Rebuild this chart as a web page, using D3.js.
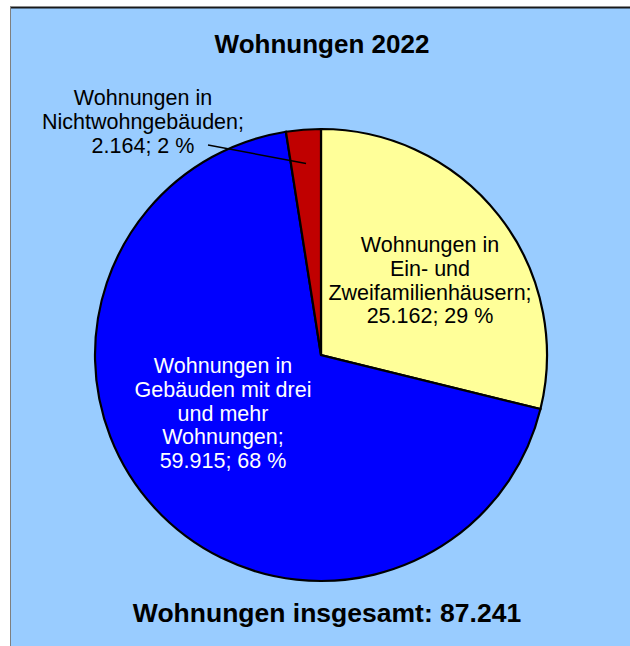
<!DOCTYPE html>
<html>
<head>
<meta charset="utf-8">
<script src="https://cdn.jsdelivr.net/npm/d3@7"></script>
<style>
  html, body { margin: 0; padding: 0; background: #ffffff; }
  svg { display: block; }
  text { font-family: "Liberation Sans", Arial, sans-serif; }
</style>
</head>
<body>
<script>
// ---- data ----
const categories = [
  "Wohnungen in Ein- und Zweifamilienhäusern",
  "Wohnungen in Gebäuden mit drei und mehr Wohnungen",
  "Wohnungen in Nichtwohngebäuden"
];
const values = [25162, 59915, 2164];
const percents = [29, 68, 2];
const labelLines = [
  ["Wohnungen in", "Ein- und", "Zweifamilienhäusern;", "25.162; 29 %"],
  ["Wohnungen in", "Gebäuden mit drei", "und mehr", "Wohnungen;", "59.915; 68 %"],
  ["Wohnungen in", "Nichtwohngebäuden;", "2.164; 2 %"]
];
const colors = ["#FFFF99", "#0000FF", "#C00000"];
const labelColors = ["#000000", "#FFFFFF", "#000000"];
const title = "Wohnungen 2022";
const footer = "Wohnungen insgesamt: 87.241";

// ---- layout ----
const W = 630, H = 646;
const cx = 321, cy = 355, R = 226;

const svg = d3.select("body").append("svg")
  .attr("width", W).attr("height", H);

// frame
svg.append("rect").attr("x", 10).attr("y", 7).attr("width", W - 10).attr("height", H - 7)
  .attr("fill", "#99CCFF");
svg.append("line").attr("x1", 10).attr("x2", W).attr("y1", 7.5).attr("y2", 7.5)
  .attr("stroke", "#1a1a1a").attr("stroke-width", 2);
svg.append("line").attr("x1", 10.5).attr("x2", 10.5).attr("y1", 7).attr("y2", H)
  .attr("stroke", "#7f7f7f").attr("stroke-width", 1);

// title
svg.append("text").attr("x", 322).attr("y", 53)
  .attr("text-anchor", "middle").attr("font-weight", "bold").attr("font-size", 26)
  .attr("fill", "#000").text(title);

svg.append("text").attr("x", 327).attr("y", 622)
  .attr("text-anchor", "middle").attr("font-weight", "bold").attr("font-size", 26.5)
  .attr("fill", "#000").text(footer);

// pie
const pie = d3.pie().sort(null).value(d => d)(values);
const arc = d3.arc().innerRadius(0).outerRadius(R);
const g = svg.append("g").attr("transform", `translate(${cx},${cy})`);
g.selectAll("path").data(pie).join("path")
  .attr("d", arc)
  .attr("fill", (d, i) => colors[i])
  .attr("stroke", "#000").attr("stroke-width", 2.2)
  .attr("stroke-linejoin", "miter");

// labels
const labelPos = [
  { x: 430, y: 252 },
  { x: 223, y: 373 },
  { x: 143, y: 105 }
];
const lh = 23.8;
labelLines.forEach((lines, i) => {
  const t = svg.append("text")
    .attr("text-anchor", "middle").attr("font-size", 21.5)
    .attr("fill", labelColors[i]);
  lines.forEach((ln, j) => {
    t.append("tspan").attr("x", labelPos[i].x).attr("y", labelPos[i].y + j * lh).text(ln);
  });
});

// leader line for the small slice
const red = pie[2];
const mid = (red.startAngle + red.endAngle) / 2;
const rr = R * 0.85;
svg.append("line")
  .attr("x1", 208).attr("y1", 145)
  .attr("x2", cx + rr * Math.sin(mid)).attr("y2", cy - rr * Math.cos(mid))
  .attr("stroke", "#000").attr("stroke-width", 1.5);
</script>
</body>
</html>
